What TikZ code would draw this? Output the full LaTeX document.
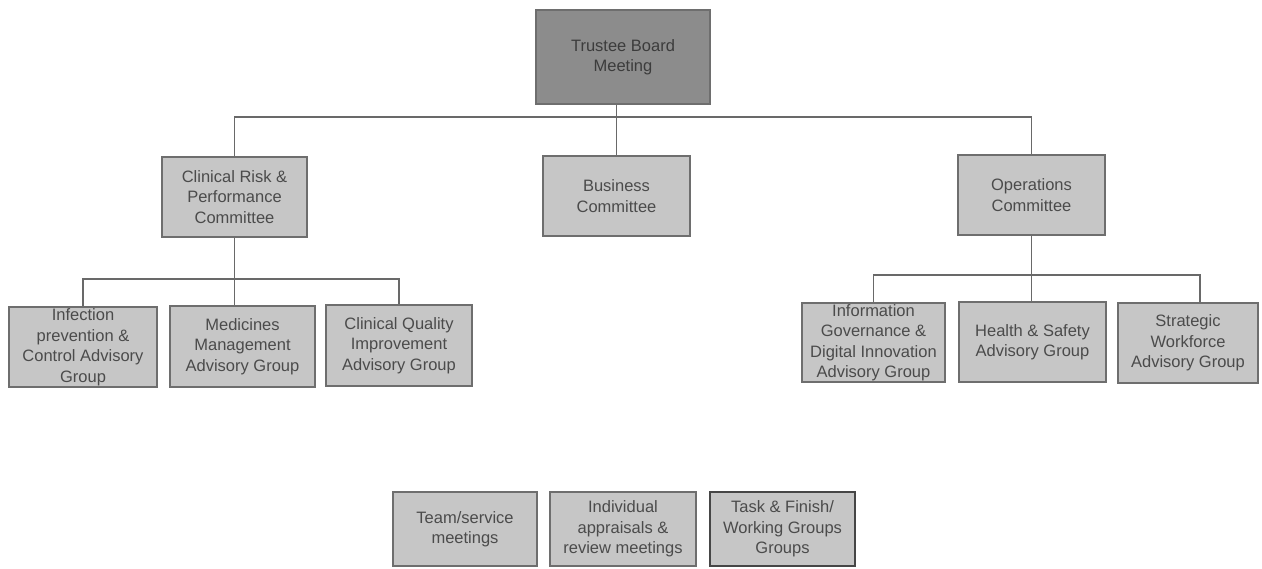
\documentclass[tikz,border=0pt]{standalone}
\usepackage{fontspec}
\setmainfont{Liberation Sans}
\usetikzlibrary{calc}
\definecolor{boxfill}{RGB}{198,198,198}
\definecolor{topfill}{RGB}{140,140,140}
\definecolor{edge}{RGB}{110,110,110}
\definecolor{txt}{RGB}{75,75,75}
\definecolor{wire}{RGB}{105,105,105}
\begin{document}
\begin{tikzpicture}[x=1pt,y=-1pt,
  orgbox/.style={draw=edge, line width=1.2pt, fill=boxfill, text=txt, align=center,
    font=\fontsize{16.5}{20.5}\selectfont, inner sep=0pt},
  topbox/.style={orgbox, fill=topfill, text={rgb,255:red,60;green,60;blue,60}},
  wireline/.style={draw=wire, line width=1.2pt}]
\useasboundingbox[fill=white] (0,0) rectangle (1262,569);
% level 0
\node[topbox, minimum width=174pt, minimum height=94pt] (trustee) at (623,57) {Trustee Board\\Meeting};
% level 1
\node[orgbox, minimum width=145pt, minimum height=80pt] (clin) at (234.5,197) {Clinical Risk \&\\Performance\\Committee};
\node[orgbox, minimum width=147pt, minimum height=80pt] (busn) at (616.5,196) {Business\\Committee};
\node[orgbox, minimum width=147pt, minimum height=80pt] (ops) at (1031.5,195) {Operations\\Committee};
% level 2 left
\node[orgbox, minimum width=148pt, minimum height=80pt] (inf) at (83,347) {Infection\\prevention \&\\Control Advisory\\Group};
\node[orgbox, minimum width=145pt, minimum height=81pt] (med) at (242.5,346.5) {Medicines\\Management\\Advisory Group};
\node[orgbox, minimum width=146pt, minimum height=81pt] (cq) at (399,345.5) {Clinical Quality\\Improvement\\Advisory Group};
% level 2 right
\node[orgbox, minimum width=143pt, minimum height=79pt] (igov) at (873.5,342.5) {Information\\Governance \&\\Digital Innovation\\Advisory Group};
\node[orgbox, minimum width=147pt, minimum height=80pt] (hs) at (1032.5,342) {Health \& Safety\\Advisory Group};
\node[orgbox, minimum width=140pt, minimum height=80pt] (swf) at (1188,343) {Strategic\\Workforce\\Advisory Group};
% bottom row
\node[orgbox, minimum width=144pt, minimum height=74pt] (team) at (465,529) {Team/service\\meetings};
\node[orgbox, minimum width=146pt, minimum height=74pt] (indiv) at (623,529) {Individual\\appraisals \&\\review meetings};
\node[orgbox, draw={rgb,255:red,70;green,70;blue,70}, minimum width=145pt, minimum height=74pt] (task) at (782.5,529) {Task \& Finish/\\Working Groups\\Groups};
% bus coordinates
\coordinate (b1) at (0,117);
\coordinate (b2) at (0,279);
\coordinate (b3) at (0,275);
\coordinate (swfin) at ($(swf.north)+(12,0)$);
% connectors
\draw[wireline] (busn.north) -- (busn.north |- trustee.south);
\draw[wireline] (clin.north) -- (clin.north |- b1) -- (ops.north |- b1) -- (ops.north);
\draw[wireline] (clin.south) -- (clin.south |- med.north);
\draw[wireline] (inf.north) -- (inf.north |- b2) -- (cq.north |- b2) -- (cq.north);
\draw[wireline] (ops.south) -- (ops.south |- hs.north);
\draw[wireline] (igov.north) -- (igov.north |- b3) -- (swfin |- b3) -- (swfin);
\end{tikzpicture}
\end{document}
